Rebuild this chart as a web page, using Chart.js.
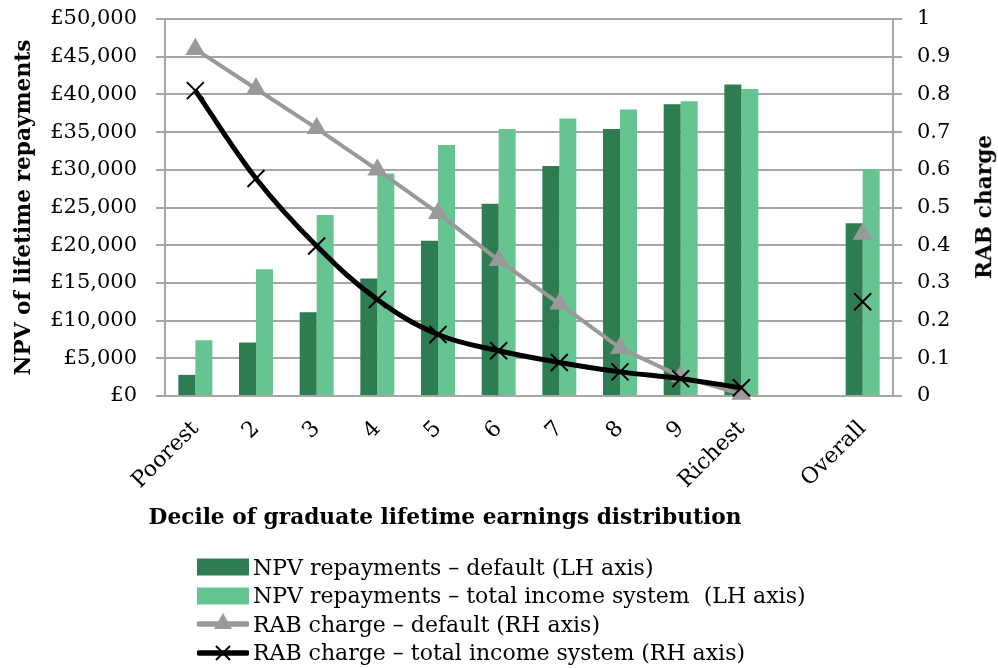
<!DOCTYPE html>
<html>
<head>
<meta charset="utf-8">
<script src="https://cdn.jsdelivr.net/npm/chart.js@4/dist/chart.umd.min.js"></script>
<style>
  html, body { margin: 0; padding: 0; background: #ffffff; }
  #wrap { position: relative; width: 998px; height: 668px; overflow: hidden; background: #fff; }
  #c { position: absolute; left: 0; top: 0; }
  .xtitle { position: absolute; left: 0; width: 890px; top: 504px; text-align: center;
            font: bold 21.7px "DejaVu Serif", serif; color: #000; white-space: nowrap; }
  .rtitle { position: absolute; left: 984px; top: 207px; transform: translate(-50%, -50%) rotate(-90deg);
            font: bold 21.7px "DejaVu Serif", serif; color: #000; white-space: nowrap; line-height: 1; }
  .legend { position: absolute; left: 197px; top: 553px; font: 22px "DejaVu Serif", serif; color: #000; }
  .row { display: flex; align-items: center; height: 28.5px; white-space: pre; }
  .row svg { flex: none; margin-right: 4px; }
</style>
</head>
<body>
<div id="wrap">
  <canvas id="c" width="998" height="668"></canvas>
  <div class="xtitle" id="xtitle"></div>
  <div class="rtitle" id="rtitle"></div>
  <div class="legend" id="legend"></div>
</div>
<script>
// ---- data ----
const categories = ["Poorest", "2", "3", "4", "5", "6", "7", "8", "9", "Richest", "", "Overall"];
const npvDefault = [2800, 7100, 11100, 15600, 20600, 25500, 30500, 35400, 38700, 41300, null, 22900];
const npvTotalIncome = [7400, 16800, 24000, 29500, 33300, 35400, 36800, 38000, 39100, 40700, null, 30100];
const rabDefault = [0.92, 0.815, 0.71, 0.60, 0.485, 0.36, 0.245, 0.127, 0.052, 0.005, null, 0.43];
const rabTotalIncome = [0.81, 0.577, 0.398, 0.256, 0.163, 0.12, 0.089, 0.064, 0.046, 0.022, null, 0.25];
const seriesNames = [
  "NPV repayments \u2013 default (LH axis)",
  "NPV repayments \u2013 total income system  (LH axis)",
  "RAB charge \u2013 default (RH axis)",
  "RAB charge \u2013 total income system (RH axis)"
];
const leftAxisTitle = "NPV of lifetime repayments";
const rightAxisTitle = "RAB charge";
const xAxisTitle = "Decile of graduate lifetime earnings distribution";

// ---- styles ----
const DARK = "#2e7d52", LIGHT = "#66c392", GREY = "#999999", BLACK = "#000000", GRID = "#a6a6a6";
const tickFont = { family: "DejaVu Serif", size: 21 };

new Chart(document.getElementById("c"), {
  type: "bar",
  data: {
    labels: categories,
    datasets: [
      { type: "line", label: seriesNames[3], data: rabTotalIncome, yAxisID: "y1", order: 0,
        borderColor: BLACK, borderWidth: 5, tension: 0.38,
        pointStyle: "crossRot", pointRadius: 12, pointBorderWidth: 2, pointBorderColor: BLACK,
        pointBackgroundColor: BLACK, clip: false, spanGaps: false },
      { type: "line", label: seriesNames[2], data: rabDefault, yAxisID: "y1", order: 1,
        borderColor: GREY, borderWidth: 4, tension: 0,
        pointStyle: "triangle", pointRadius: 11.5, pointBorderWidth: 0,
        pointBackgroundColor: GREY, pointBorderColor: GREY, clip: false, spanGaps: false },
      { label: seriesNames[0], data: npvDefault, backgroundColor: DARK, yAxisID: "y", order: 2,
        barPercentage: 1, categoryPercentage: 0.56, borderWidth: 0 },
      { label: seriesNames[1], data: npvTotalIncome, backgroundColor: LIGHT, yAxisID: "y", order: 2,
        barPercentage: 1, categoryPercentage: 0.56, borderWidth: 0 }
    ]
  },
  options: {
    responsive: false,
    animation: false,
    devicePixelRatio: 1,
    layout: { padding: { top: 19, left: 0, right: 0, bottom: 0 } },
    plugins: { legend: { display: false }, tooltip: { enabled: false }, title: { display: false } },
    scales: {
      x: {
        grid: { display: true, drawOnChartArea: false, drawTicks: false },
        border: { display: true, color: GRID, width: 2 },
        ticks: { color: "#000", font: { family: "DejaVu Serif", size: 22 }, minRotation: 45, maxRotation: 45,
                 autoSkip: false, padding: 20 },
        afterFit: (s) => { s.height = 668 - 396; s.paddingLeft = 0; s.paddingRight = 0; }
      },
      y: {
        position: "left", min: 0, max: 50000,
        ticks: { stepSize: 5000, color: "#000", font: tickFont, padding: 19,
                 callback: (v) => "\u00a3" + Number(v).toLocaleString("en-GB") },
        grid: { color: GRID, lineWidth: 2, tickLength: 9 },
        border: { display: true, color: GRID, width: 2 },
        title: { display: true, text: leftAxisTitle, color: "#000",
                 font: { family: "DejaVu Serif", size: 21.7, weight: "bold" }, padding: { top: 11, bottom: 0 } },
        afterFit: (s) => { s.width = 165; s.paddingTop = 0; s.paddingBottom = 0; }
      },
      y1: {
        position: "right", min: 0, max: 1,
        ticks: { stepSize: 0.1, color: "#000", font: tickFont, padding: 15,
                 callback: (v) => String(Number(Number(v).toFixed(1))) },
        grid: { drawOnChartArea: false, color: GRID, lineWidth: 2, tickLength: 9 },
        border: { display: true, color: GRID, width: 2 },
        afterFit: (s) => { s.width = 998 - 893; s.paddingTop = 0; s.paddingBottom = 0; }
      }
    }
  }
});

// ---- HTML titles and legend ----
document.getElementById("xtitle").textContent = xAxisTitle;
document.getElementById("rtitle").textContent = rightAxisTitle;
const markers = [
  '<svg width="52" height="28"><rect x="0" y="5.5" width="52" height="17" fill="' + DARK + '"/></svg>',
  '<svg width="52" height="28"><rect x="0" y="5.5" width="52" height="17" fill="' + LIGHT + '"/></svg>',
  '<svg width="52" height="28"><line x1="2" y1="14" x2="50" y2="14" stroke="' + GREY + '" stroke-width="5.5" stroke-linecap="round"/><polygon points="26,3 35,19 17,19" fill="' + GREY + '"/></svg>',
  '<svg width="52" height="28"><line x1="2" y1="14" x2="50" y2="14" stroke="' + BLACK + '" stroke-width="5.5" stroke-linecap="round"/><line x1="19" y1="7" x2="33" y2="21" stroke="#000" stroke-width="2"/><line x1="33" y1="7" x2="19" y2="21" stroke="#000" stroke-width="2"/></svg>'
];
const leg = document.getElementById("legend");
seriesNames.forEach((name, i) => {
  const row = document.createElement("div");
  row.className = "row";
  row.innerHTML = markers[i];
  const span = document.createElement("span");
  span.textContent = name;
  row.appendChild(span);
  leg.appendChild(row);
});
</script>
</body>
</html>
